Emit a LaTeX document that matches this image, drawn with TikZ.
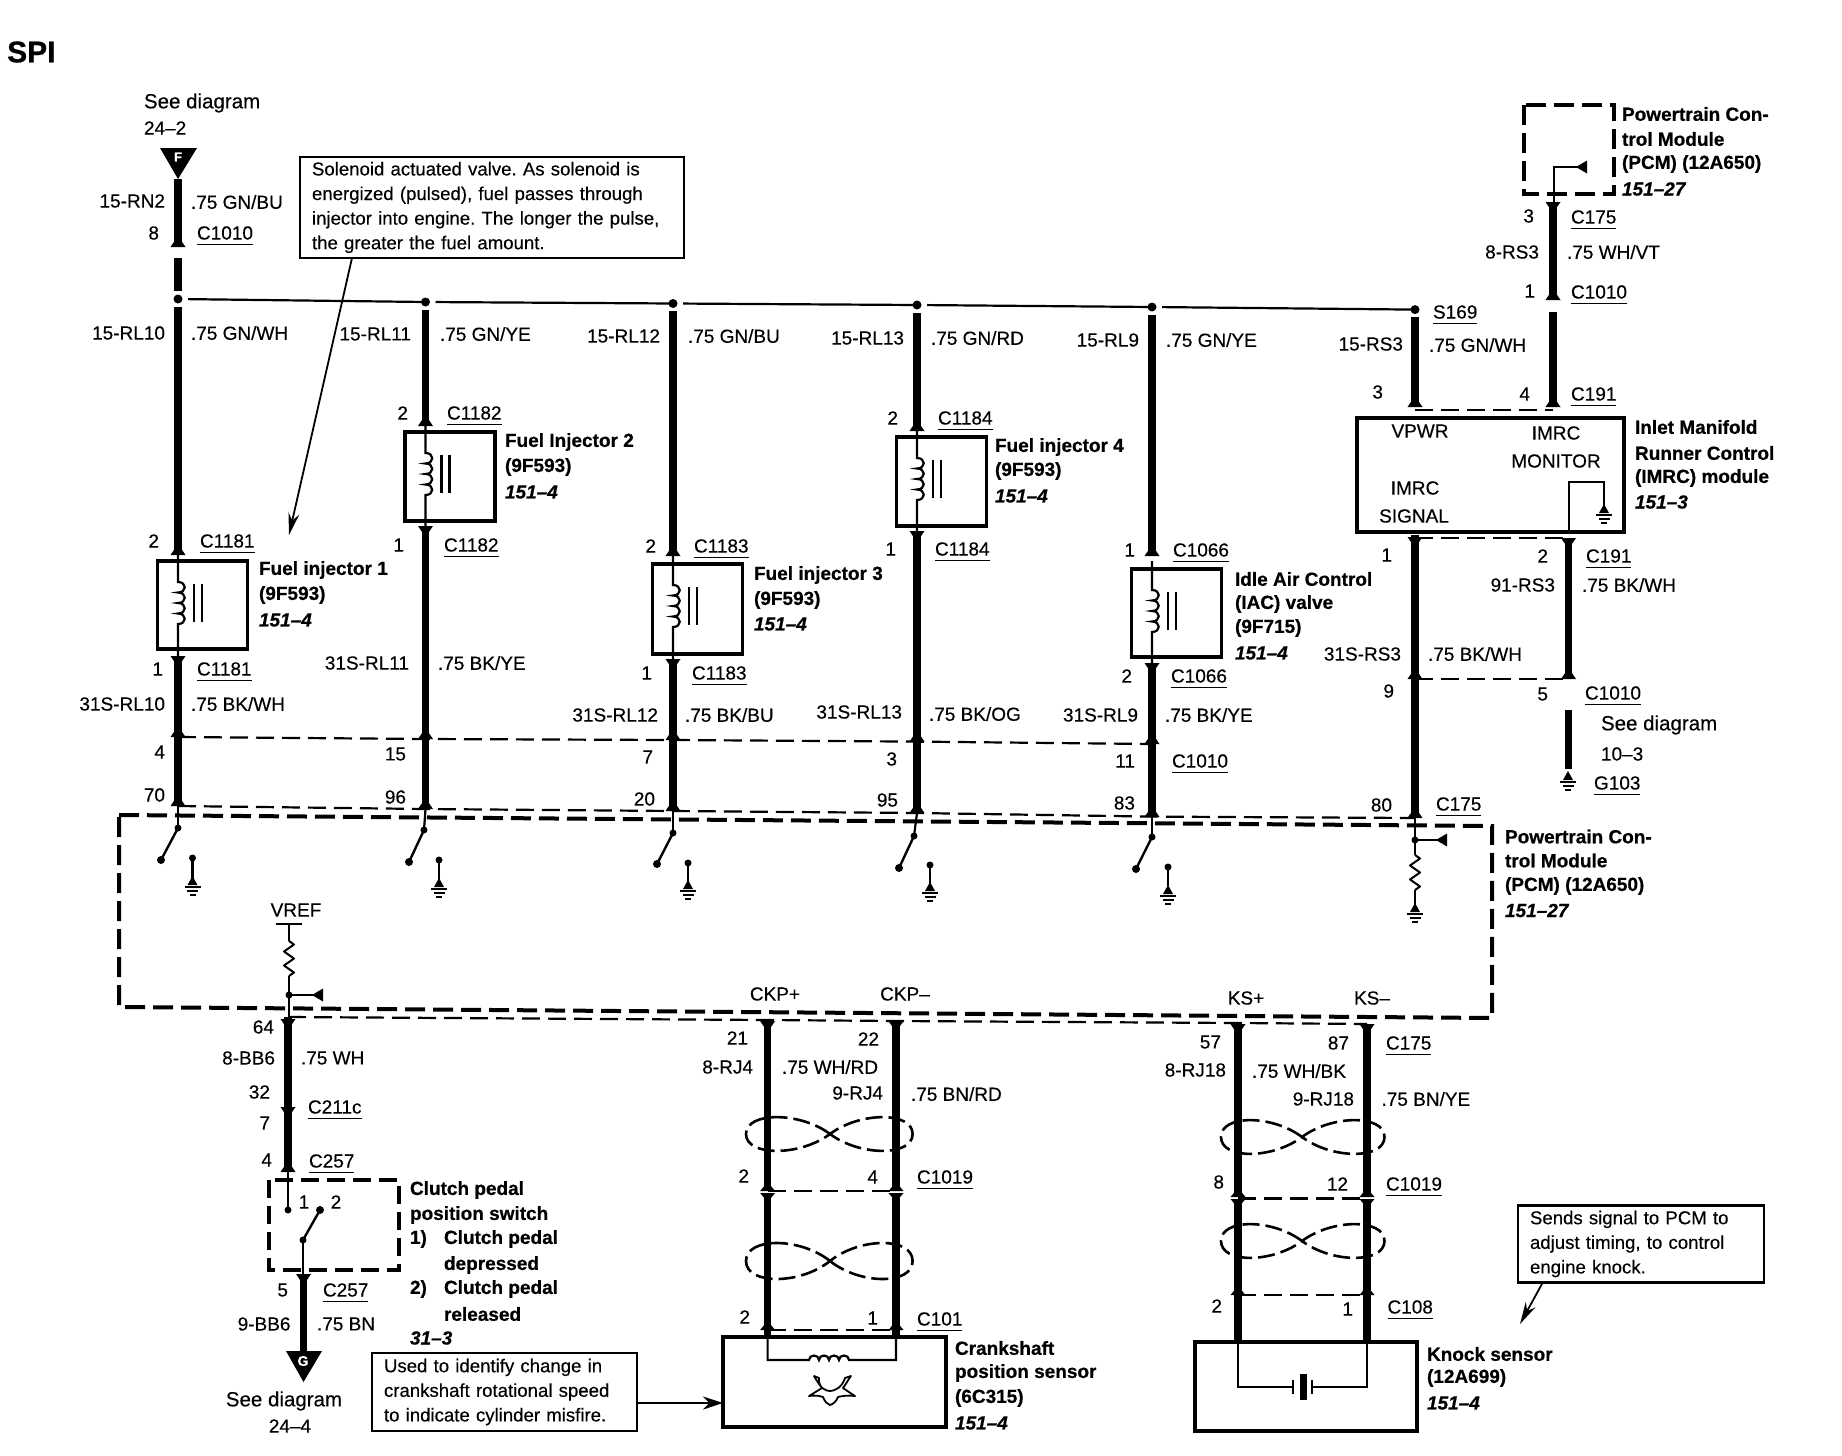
\documentclass[tikz,border=0pt]{standalone}
\usepackage{fontspec}
\setmainfont{Liberation Sans}[FakeBold=0.3,BoldFeatures={FakeBold=0.6},BoldItalicFeatures={FakeBold=0.6}]
\usetikzlibrary{arrows.meta,calc}
\newcounter{lc}
\tikzset{
  txt/.style={inner sep=0pt,outer sep=0pt,font=\fontsize{19}{23}\selectfont},
  wire/.style={line width=7.5pt},
  thinw/.style={line width=2.2pt},
  ul/.style={line width=1.4pt},
  dconn/.style={line width=2.2pt,dash pattern=on 18pt off 8pt},
  dbox/.style={line width=4pt,dash pattern=on 20pt off 8pt},
  tw/.style={line width=2.6pt,dash pattern=on 17pt off 6pt},
  dev/.style={draw,line width=3.6pt,inner sep=0pt,outer sep=0pt},
  callout/.style={draw,line width=2.8pt,inner xsep=12pt,inner ysep=2pt,outer sep=0pt,align=left,font=\fontsize{18.6}{24.6}\selectfont\frenchspacing,anchor=north west},
  lead/.style={line width=1.8pt,-{Stealth[length=22pt,width=11pt]}}
}
\newcommand\Lw[3]{\stepcounter{lc}\node[txt,anchor=west] (L\thelc) at (#1,#2) {#3};}
\newcommand\Le[3]{\stepcounter{lc}\node[txt,anchor=east] (L\thelc) at (#1,#2) {#3};}
\newcommand\Lc[3]{\stepcounter{lc}\node[txt] (L\thelc) at (#1,#2) {#3};}
\newcommand\Bw[3]{\stepcounter{lc}\node[txt,anchor=west] (L\thelc) at (#1,#2) {\bfseries #3};}
\newcommand\Bi[3]{\stepcounter{lc}\node[txt,anchor=west] (L\thelc) at (#1,#2) {\bfseries\itshape #3};}
\newcommand\Cn[3]{\stepcounter{lc}\node[txt,anchor=west] (L\thelc) at (#1,#2) {#3};
  \draw[ul] ([yshift=-5pt]L\thelc.south west) -- ([yshift=-5pt]L\thelc.south east);}
\newcommand\Seg[5]{\coordinate (#1a) at (#2,#3);\coordinate (#1b) at (#4,#5);\draw[wire] (#1a) -- (#1b);}
\newcommand\Fl[3]{\fill ({#1-7.5},#2) -- ({#1+7.5},#2) -- ({#1},{#2+#3}) -- cycle;}
\newcommand\Dot[3]{\fill (#2,#3) circle (4.5pt);\coordinate (#1) at (#2,#3);}
\newcommand\Gnd[2]{\fill (#1,#2) -- (#1+5,#2+9) -- (#1-5,#2+9) -- cycle;
  \draw[line width=1.8pt] (#1-8,#2+11) -- (#1+8,#2+11) (#1-5.5,#2+15) -- (#1+5.5,#2+15) (#1-3,#2+19) -- (#1+3,#2+19);}
\newcommand\Dtri[2]{\fill (#1,#2-6.5) -- (#1,#2+6.5) -- (#1-11,#2) -- cycle;}
\newcommand\Res[2]{\draw[line width=2pt,line join=round] (#1,#2) -- ++(5,3.5) -- ++(-10,7) -- ++(10,7) -- ++(-10,7) -- ++(10,7) -- ++(-5,3.5);}
\newcommand\Inj[4]{%
  \pgfmathsetmacro\cxx{#2+24.5}\pgfmathsetmacro\cyy{(#3+#4)/2}\pgfmathsetmacro\hh{#4-#3}
  \node[dev,minimum width=90pt,minimum height=\hh pt] (#1) at (\cxx,\cyy) {};
  \draw[thinw] (#2,#3-8) -- (#2,#3+21)
    .. controls +(9,0) and +(9,0) .. ++(0,10.5)
    .. controls +(9,0) and +(9,0) .. ++(0,10.5)
    .. controls +(9,0) and +(9,0) .. ++(0,10.5)
    .. controls +(9,0) and +(9,0) .. ++(0,10.5)
    -- (#2,#4+8);
  \draw[thinw] (#2+16,#3+23) -- (#2+16,#3+61) (#2+24,#3+23) -- (#2+24,#3+61);}
\newcommand\Sw[5]{\fill (#1,#2) circle (3.5pt) (#3,#4) circle (4pt);
  \draw[line width=2.4pt] (#1,#2) -- (#3,#4);}
\newcommand\Twist[5]{% left, right, cx, cy, half height
  \draw[tw] (#3,#4) .. controls (#3-30,#4-#5*1.5) and (#1,#4-#5*1.5) .. (#1,#4)
     .. controls (#1,#4+#5*1.5) and (#3-30,#4+#5*1.5) .. (#3,#4)
     .. controls (#3+30,#4-#5*1.5) and (#2,#4-#5*1.5) .. (#2,#4)
     .. controls (#2,#4+#5*1.5) and (#3+30,#4+#5*1.5) .. (#3,#4);}
\begin{document}
\begin{tikzpicture}[x=1pt,y=-1pt]
\useasboundingbox (0,0) rectangle (1842,1456);
\fill[white] (0,0) rectangle (1842,1456);
\stepcounter{lc}\node[inner sep=0pt,anchor=west,font=\fontsize{30}{32}\selectfont\bfseries] (spi) at (7,52) {SPI};
% top-left feed
\Lw{144}{103}{\fontsize{20.5}{23}\selectfont See diagram}\Lw{144}{128}{24--2}
\fill (160,148) -- (197,148) -- (178,179) -- cycle;
\node[inner sep=0pt,text=white,font=\fontsize{13}{13}\selectfont\bfseries] (fT) at (178,157) {F};
\Le{165}{201}{15-RN2}\Lw{191}{202}{.75 GN/BU}
\Le{159}{233}{8}\Cn{197}{233}{C1010}
\Le{165}{333}{15-RL10}\Lw{191}{333}{.75 GN/WH}
% callout 1
\node[callout,minimum width=382pt,minimum height=101pt,text width=360pt] (c1) at (300,157) {Solenoid actuated valve. As solenoid is\\energized (pulsed), fuel passes through\\injector into engine. The longer the pulse,\\the greater the fuel amount.};
\coordinate (c1t) at (289,535);
\draw[lead] (352,258) -- (c1t);
% splice
\Dot{d1}{178}{299}\Dot{d2}{425.5}{302}\Dot{d3}{673}{303.5}\Dot{d4}{917}{305}\Dot{d5}{1152}{307}\Dot{d6}{1415}{309.6}
\draw[thinw,shorten <=10pt] (d1) -- (d2);\draw[thinw,shorten <=10pt] (d2) -- (d3);\draw[thinw,shorten <=10pt] (d3) -- (d4);\draw[thinw,shorten <=10pt] (d4) -- (d5);\draw[thinw,shorten <=10pt] (d5) -- (d6);
% wires
\Seg{a}{178}{179}{178}{247}\Seg{b}{178}{258}{178}{291}\Seg{c}{178}{307}{178}{555}\Seg{e}{178}{656}{178}{806}
\Seg{f}{425.5}{310}{425.5}{426}\Seg{g}{425.5}{526}{425.5}{809}
\Seg{h}{673}{311}{673}{556}\Seg{k}{673}{659}{673}{811}
\Seg{m}{917}{313}{917}{431}\Seg{n}{917}{531}{917}{813}
\Seg{o}{1152}{315}{1152}{556}\Seg{p}{1152}{663}{1152}{817}
\Seg{q}{1415}{317}{1415}{405}\Seg{r}{1415}{535}{1415}{818}
\Seg{s}{1553}{202}{1553}{300}\Seg{t}{1553}{312}{1553}{405}
\Seg{u}{1568.5}{538}{1568.5}{677}\Seg{v}{1568.5}{710}{1568.5}{769}
% flanges
\Fl{178}{247}{-11}\Fl{178}{555}{-11}\Fl{178}{656}{11}\Fl{178}{737}{-11}\Fl{178}{806}{-11}
\Fl{425.5}{426}{-11}\Fl{425.5}{526}{11}\Fl{425.5}{739}{-11}\Fl{425.5}{809}{-11}
\Fl{673}{556}{-11}\Fl{673}{659}{11}\Fl{673}{740}{-11}\Fl{673}{811}{-11}
\Fl{917}{431}{-11}\Fl{917}{531}{11}\Fl{917}{741.6}{-11}\Fl{917}{813}{-11}
\Fl{1152}{556}{-11}\Fl{1152}{663}{11}\Fl{1152}{744}{-11}\Fl{1152}{817}{-11}
\Fl{1415}{407}{-11}\Fl{1415}{537}{11}\Fl{1415}{679}{-11}\Fl{1415}{818}{-11}
\Fl{1553}{202}{11}\Fl{1553}{300}{-11}\Fl{1553}{407}{-11}
\Fl{1568.5}{538}{11}\Fl{1568.5}{679}{-11}
% injectors
\Inj{inj1}{178}{561}{649}\Inj{inj2}{425.5}{432}{521}\Inj{inj3}{673}{564}{654}\Inj{inj4}{917}{437}{526}\Inj{iac}{1152}{569}{657}
% W1 labels
\Le{159}{541}{2}\Cn{200}{541}{C1181}
\Bw{259}{570}{Fuel injector 1}\Bw{259}{595}{(9F593)}\Bi{259}{620}{151--4}
\Le{163}{669}{1}\Cn{197}{669}{C1181}
\Le{165}{704}{31S-RL10}\Lw{191}{704}{.75 BK/WH}
\Le{165}{752}{4}\Le{165}{795}{70}
% W2 labels
\Le{411}{334}{15-RL11}\Lw{440}{334}{.75 GN/YE}
\Le{408}{413}{2}\Cn{447}{413}{C1182}
\Bw{505}{442}{Fuel Injector 2}\Bw{505}{467}{(9F593)}\Bi{505}{492}{151--4}
\Le{404}{545}{1}\Cn{444}{545}{C1182}
\Le{409}{663}{31S-RL11}\Lw{438}{663}{.75 BK/YE}
\Le{406}{754}{15}\Le{406}{797}{96}
% W3 labels
\Le{660}{336}{15-RL12}\Lw{688}{336}{.75 GN/BU}
\Le{656}{546}{2}\Cn{694}{546}{C1183}
\Bw{754}{575}{Fuel injector 3}\Bw{754}{600}{(9F593)}\Bi{754}{624}{151--4}
\Le{652}{673}{1}\Cn{692}{673}{C1183}
\Le{658}{715}{31S-RL12}\Lw{685}{715}{.75 BK/BU}
\Le{653}{757}{7}\Le{655}{799}{20}
% W4 labels
\Le{904}{338}{15-RL13}\Lw{931}{338}{.75 GN/RD}
\Le{898}{418}{2}\Cn{938}{418}{C1184}
\Bw{995}{447}{Fuel injector 4}\Bw{995}{471}{(9F593)}\Bi{995}{496}{151--4}
\Le{896}{549}{1}\Cn{935}{549}{C1184}
\Le{902}{712}{31S-RL13}\Lw{929}{714}{.75 BK/OG}
\Le{897}{759}{3}\Le{898}{800}{95}
% W5 labels
\Le{1139}{340}{15-RL9}\Lw{1166}{340}{.75 GN/YE}
\Le{1135}{550}{1}\Cn{1173}{550}{C1066}
\Bw{1235}{579}{Idle Air Control}\Bw{1235}{604}{(IAC) valve}\Bw{1235}{628}{(9F715)}\Bi{1235}{653}{151--4}
\Le{1132}{676}{2}\Cn{1171}{676}{C1066}
\Le{1138}{715}{31S-RL9}\Lw{1165}{715}{.75 BK/YE}
\Le{1135}{761}{11}\Cn{1172}{761}{C1010}\Le{1135}{803}{83}
% IMRC
\Cn{1433}{312}{S169}
\Le{1403}{344}{15-RS3}\Lw{1429}{345}{.75 GN/WH}
\Le{1383}{392}{3}\Le{1530}{394}{4}\Cn{1571}{394}{C191}
\node[dev,minimum width=267pt,minimum height=114pt] (imrc) at (1490.5,475) {};
\draw[dconn] (1415,410) -- (1553,410);
\Lc{1420}{431}{VPWR}\Lc{1556}{433}{IMRC}\Lc{1556}{461}{MONITOR}\Lc{1415}{488}{IMRC}\Lc{1414}{516}{SIGNAL}
\draw[thinw] (1569,532) -- (1569,482) -- (1604,482) -- (1604,505);
\Gnd{1604}{504}
\Bw{1635}{427}{Inlet Manifold}\Bw{1635}{453}{Runner Control}\Bw{1635}{478}{(IMRC) module}\Bi{1635}{502}{151--3}
% top PCM
\draw[dbox] (1524,105) rectangle (1614,194);
\draw[thinw] (1554,202) -- (1554,167) -- (1578,167);\Dtri{1587}{167}
\Bw{1622}{114}{Powertrain Con-}\Bw{1622}{139}{trol Module}\Bw{1622}{164}{(PCM) (12A650)}\Bi{1622}{189}{151--27}
\Le{1534}{216}{3}\Cn{1571}{217}{C175}
\Le{1539}{252}{8-RS3}\Lw{1567}{252}{.75 WH/VT}
\Le{1535}{291}{1}\Cn{1571}{292}{C1010}
% below IMRC
\draw[dconn] (1415,538) -- (1568.5,538);\draw[dconn] (1415,679) -- (1568.5,679);
\Le{1392}{555}{1}\Le{1548}{556}{2}\Cn{1586}{556}{C191}
\Le{1555}{585}{91-RS3}\Lw{1582}{585}{.75 BK/WH}
\Le{1401}{654}{31S-RS3}\Lw{1428}{654}{.75 BK/WH}
\Le{1394}{691}{9}\Le{1548}{694}{5}\Cn{1585}{693}{C1010}
\Lw{1601}{725}{\fontsize{20.5}{23}\selectfont See diagram}\Lw{1601}{754}{10--3}
\Gnd{1568}{771}\Cn{1594}{783}{G103}
\Le{1392}{805}{80}\Cn{1436}{804}{C175}
% connector dashes
\draw[dconn] (178,737) -- (425.5,739) -- (673,740) -- (917,741.6) -- (1152,744);
\draw[dconn] (178,806) -- (425.5,809) -- (673,811) -- (917,813) -- (1152,816.6) -- (1415,818);
% big PCM
\draw[dbox] (119,815) -- (1492,826) -- (1492,1018) -- (119,1007) -- cycle;
\Bw{1505}{836.5}{Powertrain Con-}\Bw{1505}{860.5}{trol Module}\Bw{1505}{886}{(PCM) (12A650)}\Bi{1505}{910.5}{151--27}
% switches
\draw[thinw] (178,806) -- (178,828);\Sw{178}{828}{161}{860}{}
\draw[thinw] (192.5,858) -- (192.5,880);\fill (192.5,858) circle (3.5pt);\Gnd{192.5}{876}
\draw[thinw] (425.5,809) -- (424,830);\Sw{424}{830}{409}{862}{}
\draw[thinw] (439,860) -- (439,880);\fill (439,860) circle (3.5pt);\Gnd{439}{878}
\draw[thinw] (673,811) -- (673,833);\Sw{673}{833}{657}{864}{}
\draw[thinw] (688,863) -- (688,882);\fill (688,863) circle (3.5pt);\Gnd{688}{880}
\draw[thinw] (917,813) -- (914,836);\Sw{914}{836}{899}{868}{}
\draw[thinw] (930,865) -- (930,884);\fill (930,865) circle (3.5pt);\Gnd{930}{882}
\draw[thinw] (1152,817) -- (1152,837);\Sw{1152}{837}{1136}{869}{}
\draw[thinw] (1168,867) -- (1168,886);\fill (1168,867) circle (3.5pt);\Gnd{1168}{885}
% W6 inside PCM
\draw[thinw] (1415,818) -- (1415,855);\fill (1415,840) circle (3.5pt);\draw[thinw] (1415,840) -- (1438,840);\Dtri{1447}{840}
\Res{1415}{855}\draw[thinw] (1415,890) -- (1415,905);\Gnd{1415}{903}
% VREF
\Lc{296}{910}{VREF}
\draw[thinw] (276,924) -- (302,924) (289,924) -- (289,941);
\Res{289}{941}\draw[thinw] (289,976) -- (289,1017);\fill (289,995) circle (3.5pt);
\draw[thinw] (289,995) -- (314,995);\Dtri{323}{995}
\Seg{w}{288}{1017}{288}{1172}
\Fl{288}{1019}{11}\Fl{288}{1107}{11}\Fl{288}{1172}{-11}
\Le{274}{1027}{64}\Le{275}{1058}{8-BB6}\Lw{301}{1058}{.75 WH}
\Le{270}{1092}{32}\Cn{308}{1107}{C211c}\Le{270}{1123}{7}
\Le{272}{1160}{4}\Cn{309}{1161}{C257}
% clutch
\draw[dconn,line width=3.6pt] (269,1180) rectangle (399,1270);
\draw[thinw] (288,1172) -- (288,1210);\fill (288,1210) circle (3.5pt);
\Lc{304}{1202}{1}\Lc{336}{1202}{2}
\Sw{303}{1240}{320}{1210}{}
\draw[thinw] (303,1240) -- (303,1274);
\Seg{x}{303.5}{1274}{303.5}{1355}\Fl{303.5}{1274}{11}
\fill (286,1351) -- (322,1351) -- (303.5,1382) -- cycle;
\node[inner sep=0pt,text=white,font=\fontsize{14}{14}\selectfont\bfseries] (gT) at (303,1361) {G};
\Bw{410}{1190}{Clutch pedal}\Bw{410}{1215}{position switch}
\Bw{410}{1239}{1)}\Bw{444}{1239}{Clutch pedal}\Bw{444}{1265}{depressed}
\Bw{410}{1289}{2)}\Bw{444}{1289}{Clutch pedal}\Bw{444}{1314}{released}\Bi{410}{1338}{31--3}
\Le{288}{1290}{5}\Cn{323}{1290}{C257}\Le{290.5}{1324}{9-BB6}\Lw{317}{1324}{.75 BN}
\Lc{284}{1401}{\fontsize{20.5}{23}\selectfont See diagram}\Lc{290}{1426}{24--4}
% callout 2
\node[callout,minimum width=265pt,minimum height=78pt,text width=241pt] (c2) at (372,1353) {Used to identify change in\\crankshaft rotational speed\\to indicate cylinder misfire.};
\node[dev,line width=3.4pt,minimum width=223pt,minimum height=90pt] (crank) at (834.5,1382) {};
\draw[line width=2.6pt,-{Stealth[length=20pt,width=13pt]}] (c2.east |- 0,1403) -- (crank.west |- 0,1403);
% crank wires
\Lc{775}{994}{CKP+}\Lc{905}{994}{CKP--}
\draw[dconn] (288,1017) -- (767.6,1020) -- (896,1021) -- (1238,1023) -- (1367,1024);
\Seg{y}{767.6}{1022}{767.6}{1188}\Seg{z}{767.6}{1198}{767.6}{1337}
\Seg{aa}{896}{1022}{896}{1188}\Seg{ab}{896}{1198}{896}{1337}
\foreach \xx in {767.6,896}{\Fl{\xx}{1021}{11}\Fl{\xx}{1191}{-9}\Fl{\xx}{1193}{9}\Fl{\xx}{1330}{-9}}
\draw[dconn] (767.6,1191) -- (896,1191);\draw[dconn] (767.6,1330) -- (896,1330);
\Twist{746}{912.6}{830}{1134}{15}\Twist{746}{912.6}{830}{1261}{16}
\Le{748}{1038}{21}\Le{879}{1039}{22}\Le{753}{1067}{8-RJ4}\Lw{782}{1067}{.75 WH/RD}
\Le{883}{1093}{9-RJ4}\Lw{911}{1094}{.75 BN/RD}
\Le{749}{1176}{2}\Le{878}{1177}{4}\Cn{917}{1177}{C1019}
\Le{750}{1317}{2}\Le{878}{1318}{1}\Cn{917}{1319}{C101}
\draw[thinw] (767.6,1337) -- (767.6,1360) -- (809,1360)
  .. controls +(0,-6) and +(0,-6) .. ++(10,0) .. controls +(0,-6) and +(0,-6) .. ++(10,0) .. controls +(0,-6) and +(0,-6) .. ++(10,0) .. controls +(0,-6) and +(0,-6) .. ++(10,0)
  -- (896,1360) -- (896,1337);
\draw[line width=1.8pt,line join=round] (814,1376) .. controls (818,1383) and (820,1385) .. (822,1388) -- (809,1396) .. controls (815,1395) and (820,1396) .. (823,1397) .. controls (825,1402) and (827,1404) .. (830,1405) .. controls (833,1404) and (836,1402) .. (838,1397) .. controls (842,1396) and (848,1395) .. (855,1396) -- (843,1388) .. controls (846,1384) and (848,1380) .. (851,1376) -- (845,1378)
  .. controls (842,1388) and (834,1391) .. (830,1391) .. controls (826,1391) and (818,1388) .. (819,1378) -- cycle;
\Bw{955}{1348}{Crankshaft}\Bw{955}{1373}{position sensor}\Bw{955}{1398}{(6C315)}\Bi{955}{1423}{151--4}
% knock wires
\Lc{1246}{998}{KS+}\Lc{1372}{998}{KS--}
\Seg{ac}{1238}{1023}{1238}{1193}\Seg{ad}{1238}{1202}{1238}{1343}
\Seg{ae}{1367}{1024}{1367}{1193}\Seg{af}{1367}{1202}{1367}{1343}
\foreach \xx in {1238,1367}{\Fl{\xx}{1024}{11}\Fl{\xx}{1197}{-9}\Fl{\xx}{1199}{9}\Fl{\xx}{1295}{-9}}
\draw[dconn] (1238,1198.5) -- (1367,1198.5);\draw[dconn] (1238,1295) -- (1367,1295);
\Twist{1221}{1384.5}{1302}{1137}{15}\Twist{1221}{1384.5}{1302}{1241}{15}
\Le{1221}{1042}{57}\Le{1349}{1043}{87}\Cn{1386}{1043}{C175}
\Le{1226}{1070}{8-RJ18}\Lw{1252}{1071}{.75 WH/BK}
\Le{1354}{1099}{9-RJ18}\Lw{1381.5}{1099}{.75 BN/YE}
\Le{1224}{1182}{8}\Le{1348}{1184}{12}\Cn{1386}{1184}{C1019}
\Le{1222}{1306}{2}\Le{1353}{1309}{1}\Cn{1387.5}{1307}{C108}
\node[dev,minimum width=222pt,minimum height=89pt] (knock) at (1306,1386.5) {};
\draw[thinw] (1238,1343) -- (1238,1387) -- (1293,1387) (1312,1387) -- (1367,1387) -- (1367,1343);
\draw[line width=2.4pt] (1293,1380) -- (1293,1394) (1312,1380) -- (1312,1394);
\draw[line width=7pt] (1303,1374) -- (1303,1400);
\Bw{1427}{1354}{Knock sensor}\Bw{1427}{1378}{(12A699)}\Bi{1427}{1403}{151--4}
% callout 3
\node[callout,minimum width=246pt,minimum height=77pt,text width=222pt] (c3) at (1518,1205.5) {Sends signal to PCM to\\adjust timing, to control\\engine knock.};
\coordinate (c3t) at (1520,1324);
\draw[lead] (1543,1282) -- (c3t);
\end{tikzpicture}
\end{document}
